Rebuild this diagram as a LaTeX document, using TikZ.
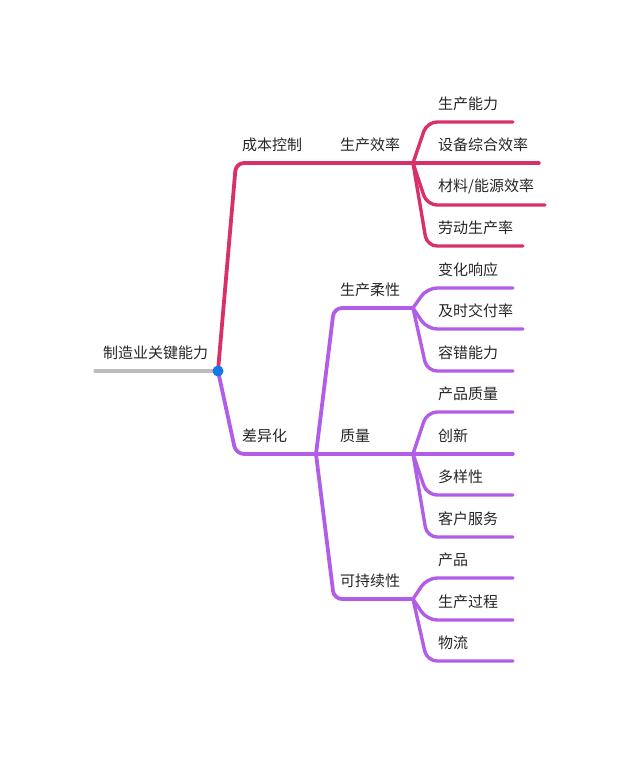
\documentclass[tikz,border=0pt]{standalone}
\usepackage{fontspec}
\setmainfont{Noto Sans CJK SC}
\usepackage{xcolor}
\definecolor{rootgray}{HTML}{BDBDBD}
\definecolor{costred}{HTML}{D8306A}
\definecolor{diffpurple}{HTML}{B25DE8}
\definecolor{dotblue}{HTML}{1677E8}
\definecolor{txtgray}{HTML}{262626}

\begin{document}
\begin{tikzpicture}[x=1pt,y=-1pt,
    lbl/.style={anchor=south west, inner sep=0pt, yshift=11pt, text=txtgray, font=\fontsize{15}{18}\selectfont},
    branch/.style={line width=3.8pt, line cap=round, rounded corners=8pt},
    twig/.style={line width=3.4pt, line cap=round, rounded corners=10pt}]
    \useasboundingbox (0,0) rectangle (640,773);
    % Wurzel
    \coordinate (start) at (95,371);
    \coordinate (root) at (218,371);
    \draw[line width=3.5pt, line cap=round, rootgray] (start) -- (root);
    \node (rootT) at (103,371) [lbl] {制造业关键能力};
    % Ast: Kosten
    \coordinate (cost) at (236,163);
    \coordinate (eff) at (413,163);
    \draw[branch, costred] (root) -- (cost) -- (eff);
    \node (costT) at (242,163) [lbl] {成本控制};
    \node (effT) at (340,163) [lbl] {生产效率};
    % Ast: Differenzierung
    \coordinate (diff) at (236,454);
    \coordinate (fork) at (316,454);
    \coordinate (qual) at (413,454);
    \draw[branch, diffpurple] (root) -- (diff) -- (qual);
    \node (diffT) at (242,454) [lbl] {差异化};
    \node (qualT) at (340,454) [lbl] {质量};
    \coordinate (flex) at (334,308);
    \coordinate (flexJ) at (413,308);
    \draw[branch, diffpurple] (fork) -- (flex) -- (flexJ);
    \node (flexT) at (340,308) [lbl] {生产柔性};
    \coordinate (sust) at (334,599);
    \coordinate (sustJ) at (413,599);
    \draw[branch, diffpurple] (fork) -- (sust) -- (sustJ);
    \node (sustT) at (340,599) [lbl] {可持续性};
    % Blätter: 生产效率
    \coordinate (cap) at (427,122); \coordinate (cap-e) at (513,122);
    \coordinate (oee-e) at (539,163);
    \coordinate (mat) at (427,205); \coordinate (mat-e) at (545,205);
    \coordinate (lab) at (427,246); \coordinate (lab-e) at (523,246);
    \draw[twig, costred] (eff) -- (cap) -- (cap-e);
    \draw[twig, costred] (eff) -- (oee-e);
    \draw[twig, costred] (eff) -- (mat) -- (mat-e);
    \draw[twig, costred] (eff) -- (lab) -- (lab-e);
    \node (capT) at (438,122) [lbl] {生产能力};
    \node (oeeT) at (438,163) [lbl] {设备综合效率};
    \node (matT) at (438,205) [lbl] {材料/能源效率};
    \node (labT) at (438,246) [lbl] {劳动生产率};
    % Blätter: 生产柔性
    \coordinate (resp) at (427,288); \coordinate (resp-e) at (513,288);
    \coordinate (otd) at (427,329); \coordinate (otd-e) at (523,329);
    \coordinate (tol) at (427,371); \coordinate (tol-e) at (513,371);
    \draw[twig, diffpurple] (flexJ) -- (resp) -- (resp-e);
    \draw[twig, diffpurple] (flexJ) -- (otd) -- (otd-e);
    \draw[twig, diffpurple] (flexJ) -- (tol) -- (tol-e);
    \node (respT) at (438,288) [lbl] {变化响应};
    \node (otdT) at (438,329) [lbl] {及时交付率};
    \node (tolT) at (438,371) [lbl] {容错能力};
    % Blätter: 质量
    \coordinate (pq) at (427,412); \coordinate (pq-e) at (513,412);
    \coordinate (inno-e) at (513,454);
    \coordinate (var) at (427,495); \coordinate (var-e) at (513,495);
    \coordinate (serv) at (427,537); \coordinate (serv-e) at (513,537);
    \draw[twig, diffpurple] (qual) -- (pq) -- (pq-e);
    \draw[twig, diffpurple] (qual) -- (inno-e);
    \draw[twig, diffpurple] (qual) -- (var) -- (var-e);
    \draw[twig, diffpurple] (qual) -- (serv) -- (serv-e);
    \node (pqT) at (438,412) [lbl] {产品质量};
    \node (innoT) at (438,454) [lbl] {创新};
    \node (varT) at (438,495) [lbl] {多样性};
    \node (servT) at (438,537) [lbl] {客户服务};
    % Blätter: 可持续性
    \coordinate (prod) at (427,578); \coordinate (prod-e) at (513,578);
    \coordinate (proc) at (427,620); \coordinate (proc-e) at (513,620);
    \coordinate (logi) at (427,661); \coordinate (logi-e) at (513,661);
    \draw[twig, diffpurple] (sustJ) -- (prod) -- (prod-e);
    \draw[twig, diffpurple] (sustJ) -- (proc) -- (proc-e);
    \draw[twig, diffpurple] (sustJ) -- (logi) -- (logi-e);
    \node (prodT) at (438,578) [lbl] {产品};
    \node (procT) at (438,620) [lbl] {生产过程};
    \node (logiT) at (438,661) [lbl] {物流};
    % Punkt an der Wurzel
    \fill[dotblue] (root) circle (5.5pt);
\end{tikzpicture}
\end{document}
